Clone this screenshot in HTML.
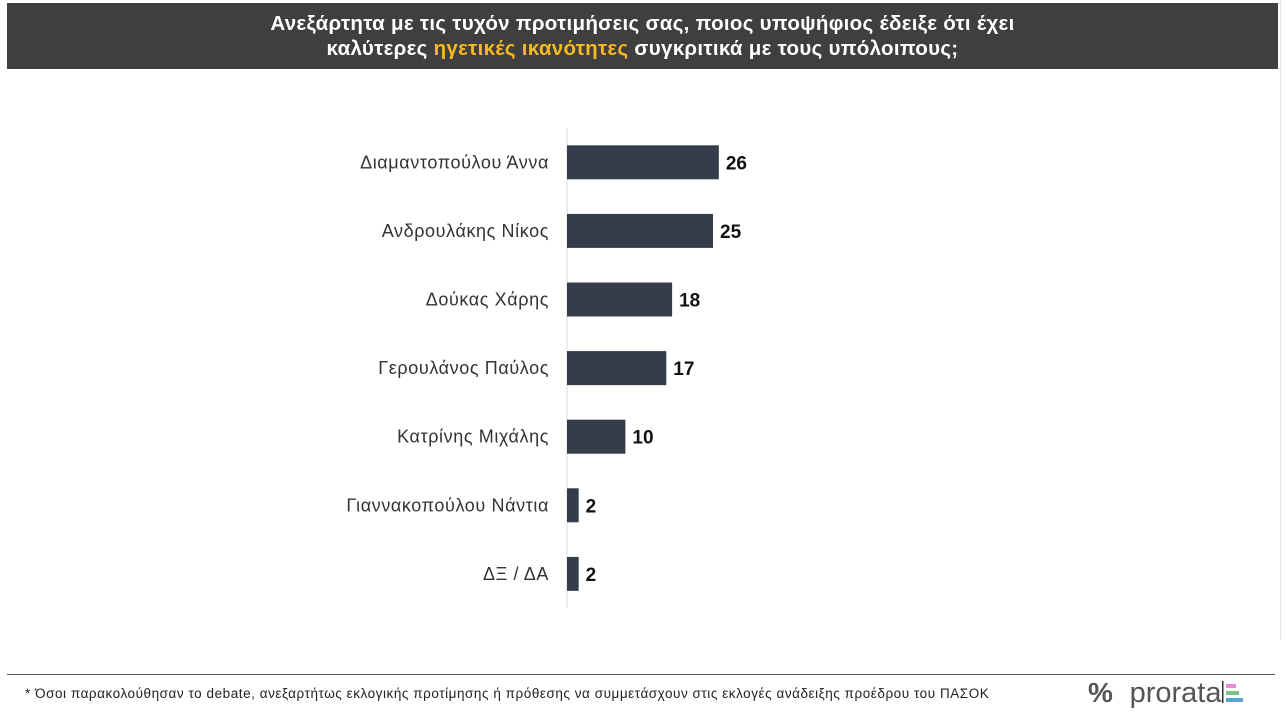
<!DOCTYPE html>
<html><head><meta charset="utf-8"><style>
body{margin:0;width:1287px;height:728px;background:#fff;position:relative;overflow:hidden;font-family:"Liberation Sans","DejaVu Sans",sans-serif}
#hdr{position:absolute;left:7px;top:3px;width:1271px;height:66px;background:#3f3f3f;color:#fff;font-weight:bold;font-size:20.5px;text-align:center;line-height:25px;padding-top:8px;box-sizing:border-box;letter-spacing:0.3px}
#hdr span{color:#f5b921}
#edge{position:absolute;left:1280px;top:0;width:1px;height:640px;background:#e6e6e6}
#foot{position:absolute;left:7px;top:674px;width:1268px;height:1px;background:#555}
#note{position:absolute;left:25px;top:686px;font-size:13.5px;color:#222;letter-spacing:0.55px}
#logo{position:absolute;left:1088px;top:676px;font-size:30px;color:#555;white-space:nowrap}
</style></head><body>
<div id="hdr">Ανεξάρτητα με τις τυχόν προτιμήσεις σας, ποιος υποψήφιος έδειξε ότι έχει<br>καλύτερες <span>ηγετικές ικανότητες</span> συγκριτικά με τους υπόλοιπους;</div>
<div id="edge"></div>
<svg id="chart" width="1287" height="728" style="position:absolute;left:0;top:0"></svg>
<div id="foot"></div>
<div id="note">* Όσοι παρακολούθησαν το debate, ανεξαρτήτως εκλογικής προτίμησης ή πρόθεσης να συμμετάσχουν στις εκλογές ανάδειξης προέδρου του ΠΑΣΟΚ</div>
<div id="logo"><span style="font-weight:bold;font-size:28px">%</span>&nbsp;&nbsp;<span style="font-weight:300;font-size:29px">prorata</span><svg width="26" height="26" style="vertical-align:-3px"><rect x="1" y="2" width="1.5" height="22" fill="#333"/><rect x="5" y="5" width="10" height="4" fill="#e48ad2"/><rect x="5" y="12" width="13" height="4" fill="#7cc28a"/><rect x="5" y="19" width="17" height="4" fill="#5aa3d6"/></svg></div>
<script>
const categories=["Διαμαντοπούλου Άννα","Ανδρουλάκης Νίκος","Δούκας Χάρης","Γερουλάνος Παύλος","Κατρίνης Μιχάλης","Γιαννακοπούλου Νάντια","ΔΞ / ΔΑ"];
const values=[26,25,18,17,10,2,2];
const NS="http://www.w3.org/2000/svg";
const svg=document.getElementById('chart');
const x0=567,scale=5.84,top0=128,step=68.6,bh=34;
const xs=v=>x0+v*scale;
const yc=i=>top0+step*(i+0.5);
const ax=document.createElementNS(NS,'line');
ax.setAttribute('x1',x0);ax.setAttribute('x2',x0);ax.setAttribute('y1',top0);ax.setAttribute('y2',top0+step*categories.length);
ax.setAttribute('stroke','#d9d9d9');ax.setAttribute('stroke-width','1');


svg.appendChild(ax);
categories.forEach((c,i)=>{
 const r=document.createElementNS(NS,'rect');
 r.setAttribute('x',x0);r.setAttribute('y',yc(i)-bh/2);r.setAttribute('width',xs(values[i])-x0);r.setAttribute('height',bh);r.setAttribute('fill','#353d4d');
 
 
 svg.appendChild(r);
 const l=document.createElementNS(NS,'text');
 l.setAttribute('x',x0-18);l.setAttribute('y',yc(i)+6);l.setAttribute('text-anchor','end');l.setAttribute('font-size','18');l.setAttribute('letter-spacing','0.6');l.setAttribute('fill','#333');
 l.textContent=c;
 
 
 svg.appendChild(l);
 const v=document.createElementNS(NS,'text');
 v.setAttribute('x',xs(values[i])+7);v.setAttribute('y',yc(i)+7);v.setAttribute('font-size','19');v.setAttribute('font-weight','bold');v.setAttribute('fill','#111');
 v.textContent=values[i];
 
 
 svg.appendChild(v);
});
</script>
</body></html>
